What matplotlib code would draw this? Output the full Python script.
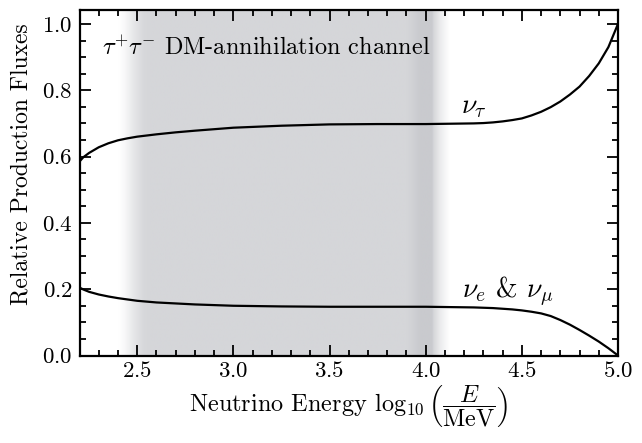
import numpy as np
import matplotlib.pyplot as plt
from matplotlib.ticker import MultipleLocator

plt.rcParams['font.family'] = 'serif'
plt.rcParams['font.serif'] = ['cmr10']
plt.rcParams['mathtext.fontset'] = 'cm'
plt.rcParams['axes.formatter.use_mathtext'] = True
plt.rcParams['font.size'] = 17

# values
log_e = [2.2, 2.22, 2.25, 2.3, 2.35, 2.4, 2.45, 2.5, 2.6, 2.7, 2.8, 3.0, 3.25,
         3.5, 3.75, 4.0, 4.25, 4.3, 4.35, 4.4, 4.45, 4.5, 4.55, 4.6, 4.65,
         4.7, 4.75, 4.8, 4.85, 4.9, 4.95, 5.0]
nu_tau = [0.585, 0.598, 0.611, 0.628, 0.640, 0.649, 0.655, 0.660, 0.667,
          0.673, 0.678, 0.687, 0.693, 0.697, 0.698, 0.698, 0.700, 0.701,
          0.703, 0.706, 0.710, 0.715, 0.724, 0.735, 0.749, 0.766, 0.787,
          0.811, 0.843, 0.881, 0.930, 1.0]
nu_e_mu = [0.205, 0.199, 0.192, 0.184, 0.178, 0.173, 0.169, 0.165, 0.160,
           0.157, 0.154, 0.150, 0.148, 0.147, 0.147, 0.147, 0.145, 0.144,
           0.143, 0.141, 0.139, 0.136, 0.132, 0.127, 0.119, 0.107, 0.093,
           0.077, 0.060, 0.042, 0.022, 0.0]

# shaded band profile (position, darkness)
band_x = [2.40, 2.43, 2.48, 2.53, 2.56, 3.9, 3.97, 4.03, 4.07, 4.12]
band_dark = [0.0, 0.15, 0.6, 0.95, 1.0, 1.0, 1.1, 1.1, 0.5, 0.0]

fig = plt.figure(figsize=(6.42, 4.43), dpi=100)
ax = fig.add_axes([79.5 / 642, 87.5 / 443, 538.5 / 642, 345.5 / 443])

xs = np.linspace(2.2, 5.0, 1200)
prof = np.interp(xs, band_x, band_dark)
base = np.array([213, 214, 217]) / 255.0
dark = np.array([201, 202, 206]) / 255.0
img = np.ones((1, len(xs), 3))
for i, p in enumerate(prof):
    if p <= 1:
        img[0, i] = 1 - p * (1 - base)
    else:
        img[0, i] = base + (p - 1) / 0.1 * (dark - base)
ax.imshow(img, extent=[2.2, 5.0, 0, 1.04], aspect='auto', zorder=0,
          interpolation='bilinear')

ax.plot(log_e, nu_tau, color='black', lw=1.6, zorder=2)
ax.plot(log_e, nu_e_mu, color='black', lw=1.6, zorder=2)

ax.text(2.317, 0.925, r'$\tau^{+}\tau^{-}$ DM-annihilation channel',
        fontsize=17.5, va='center', ha='left')
ax.text(4.185, 0.75, r'$\nu_\tau$', fontsize=20, va='center', ha='left')
ax.text(4.19, 0.193, r'$\nu_e$ & $\nu_\mu$', fontsize=20, va='center',
        ha='left')

ax.set_xlim(2.2, 5.0)
ax.set_ylim(0, 1.042)
ax.xaxis.set_major_locator(MultipleLocator(0.5))
ax.xaxis.set_minor_locator(MultipleLocator(0.1))
ax.yaxis.set_major_locator(MultipleLocator(0.2))
ax.yaxis.set_minor_locator(MultipleLocator(0.05))
ax.tick_params(which='both', direction='in', top=True, right=True, width=1.3)
ax.tick_params(which='major', length=8, labelsize=16.5)
ax.tick_params(axis='x', which='major', pad=4)
ax.tick_params(axis='y', which='major', pad=5)
ax.tick_params(which='minor', length=4)
for s in ax.spines.values():
    s.set_linewidth(1.6)

ax.set_xlabel(r'Neutrino Energy $\log_{10}\left(\dfrac{E}{\mathrm{MeV}}\right)$',
              fontsize=17.5, labelpad=2)
ax.set_ylabel('Relative Production Fluxes', fontsize=17)
ax.yaxis.set_label_coords(-0.088, 0.554)

fig.savefig('out.png', dpi=100)
